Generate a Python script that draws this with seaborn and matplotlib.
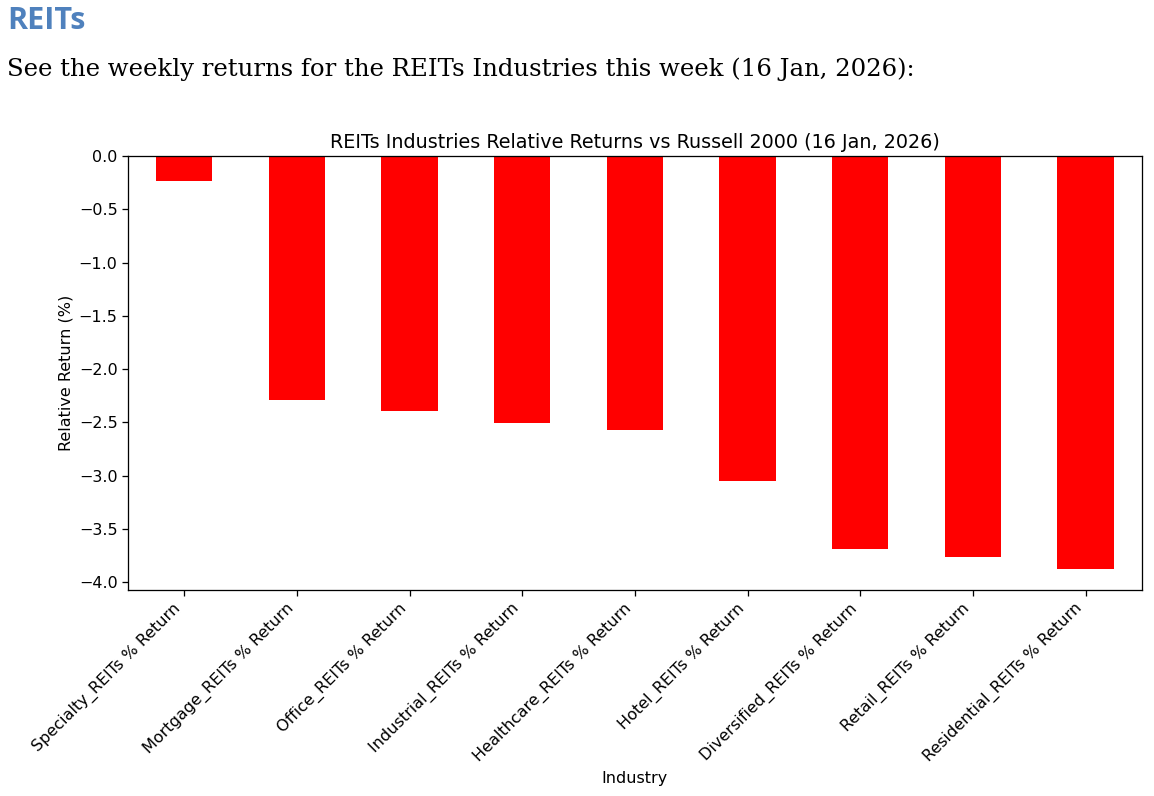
import pandas as pd
import seaborn as sns
import matplotlib.pyplot as plt

industries = [
    "Specialty_REITs % Return",
    "Mortgage_REITs % Return",
    "Office_REITs % Return",
    "Industrial_REITs % Return",
    "Healthcare_REITs % Return",
    "Hotel_REITs % Return",
    "Diversified_REITs % Return",
    "Retail_REITs % Return",
    "Residential_REITs % Return",
]
relative_returns = [-0.23, -2.29, -2.39, -2.51, -2.57, -3.05, -3.69, -3.76, -3.88]

# chart was rendered a bit larger than default, scale everything up
SCALE = 1.15


def main():
    df = pd.DataFrame({"Industry": industries, "Relative Return": relative_returns})

    plt.rcParams.update({
        "font.size": 10 * SCALE,
        "axes.linewidth": 0.8 * SCALE,
        "xtick.major.size": 3.5 * SCALE,
        "ytick.major.size": 3.5 * SCALE,
        "xtick.major.width": 0.8 * SCALE,
        "ytick.major.width": 0.8 * SCALE,
    })

    fig = plt.figure(figsize=(11.54, 7.96), dpi=100)
    ax = fig.add_axes([0.1109, 0.2588, 0.8787, 0.5452])

    sns.barplot(data=df, x="Industry", y="Relative Return", color="red",
                saturation=1, width=0.5, edgecolor="none", ax=ax)
    ax.set_xlim(-0.5, len(industries) - 0.5)
    ax.margins(y=0.05)
    ax.set_ylim(top=0)
    ax.set_title("REITs Industries Relative Returns vs Russell 2000 (16 Jan, 2026)",
                 fontsize=12 * SCALE)
    ax.set_xlabel("Industry")
    ax.set_ylabel("Relative Return (%)")
    plt.setp(ax.get_xticklabels(), rotation=45, ha="right")

    fig.text(0.006, 0.973, "REITs", fontsize=22, fontweight="bold",
             color="#4F81BD", family="Open Sans", va="center")
    fig.text(0.006, 0.913, "See the weekly returns for the REITs Industries this week (16 Jan, 2026):",
             fontsize=17.6, family="DejaVu Serif", va="center")

    fig.savefig("out.png", dpi=100)
    plt.close(fig)


if __name__ == "__main__":
    main()
